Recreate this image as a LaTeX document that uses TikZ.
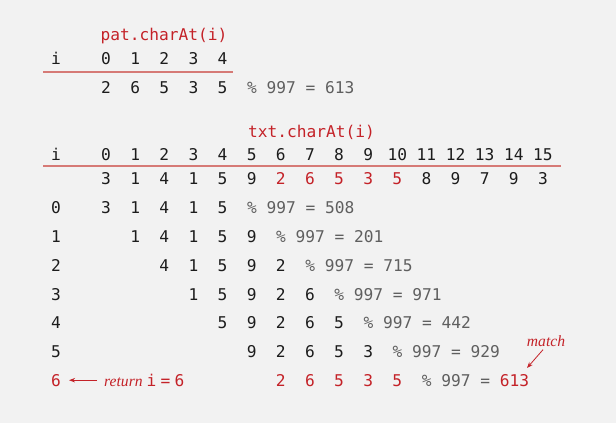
\documentclass[tikz,border=0pt]{standalone}
\usepackage{fontspec}
\setmonofont{DejaVu Sans Mono}
\newfontfamily\notefont{Liberation Serif}
\usetikzlibrary{arrows.meta}
\definecolor{bg}{RGB}{242,242,242}
\definecolor{rd}{RGB}{196,34,40}
\definecolor{rl}{RGB}{214,122,118}
\definecolor{gr}{RGB}{95,95,95}
\definecolor{dk}{RGB}{28,28,28}
\begin{document}
\begin{tikzpicture}[x=1pt,y=-1pt,
  t/.style={inner sep=0pt, font=\fontsize{16.2}{19}\selectfont\ttfamily, text height=11.8pt, text depth=0pt, text=dk},
  hl/.style={text=rd},
  calc/.style={t, anchor=west, text=gr},
  rule/.style={draw=rl, line width=1.6pt},
  note/.style={inner sep=0pt, font=\fontsize{15.6}{18}\notefont\itshape, text=rd},
  arr/.style={draw=rd, line width=0.8pt, -{Stealth[length=6pt,width=4.5pt]}}
]
\fill[bg] (0,0) rectangle (616,423);
\useasboundingbox (0,0) rectangle (616,423);
% top table
\node[t,hl] (pat) at (164,35) {pat.charAt(i)};
\node[t] (ti) at (56,59) {i};
\foreach \k in {0,...,4} \node[t] (tc\k) at ({106+29.13*\k},59) {\k};
\coordinate (tl1) at (43,72);
\coordinate (tl2) at (233,72);
\draw[rule] (tl1) -- (tl2);
\foreach \d [count=\k from 0] in {2,6,5,3,5} \node[t] (pd\k) at ({106+29.13*\k},88) {\d};
\node[calc] (pcalc) at ({106+29.13*5-4.85},88) {\% 997 = 613};
% second table
\node[t,hl] (txt) at (311.5,132) {txt.charAt(i)};
\node[t] (hi) at (56,155) {i};
\foreach \k in {0,...,15} \node[t] (hc\k) at ({106+29.13*\k},155) {\k};
\coordinate (bl1) at (43,166);
\coordinate (bl2) at (561,166);
\draw[rule] (bl1) -- (bl2);
\foreach \d [count=\k from 0] in {3,1,4,1,5,9} \node[t] (td\k) at ({106+29.13*\k},179) {\d};
\foreach \d [count=\k from 6] in {2,6,5,3,5} \node[t,hl] (td\k) at ({106+29.13*\k},179) {\d};
\foreach \d [count=\k from 11] in {8,9,7,9,3} \node[t] (td\k) at ({106+29.13*\k},179) {\d};
% rows
\foreach \rw/\a/\b/\c/\e/\f/\v in {0/3/1/4/1/5/508, 1/1/4/1/5/9/201, 2/4/1/5/9/2/715, 3/1/5/9/2/6/971, 4/5/9/2/6/5/442, 5/9/2/6/5/3/929}{
  \node[t] (l\rw) at (56,{208+28.7*\rw}) {\rw};
  \foreach \x [count=\j from 0] in {\a,\b,\c,\e,\f}{
    \pgfmathtruncatemacro{\col}{\rw+\j}
    \node[t] (n\rw-\j) at ({106+29.13*\col},{208+28.7*\rw}) {\x};
  }
  \node[calc] (c\rw) at ({106+29.13*(\rw+5)-4.85},{208+28.7*\rw}) {\% 997 = \v};
}
% row 6 (match)
\node[t,hl] (l6) at (56,380.2) {6};
\foreach \x [count=\j from 0] in {2,6,5,3,5}{
  \pgfmathtruncatemacro{\col}{6+\j}
  \node[t,hl] (n6-\j) at ({106+29.13*\col},380.2) {\x};
}
\node[calc] (c6) at ({106+29.13*11-4.85},380.2) {\% 997 = \textcolor{rd}{613}};
\node[t, anchor=west, hl] (ret) at (104,380.2) {{\fontsize{15.6}{18}\notefont\itshape return}\hspace{4pt}i\hspace{4.3pt}=\hspace{4.3pt}6};
\draw[arr] ([xshift=-7pt]ret.west) -- ([xshift=8pt]l6.east);
\node[note] (match) at (546,341) {match};
\coordinate (mt) at (527,368);
\draw[arr] ([xshift=-3pt,yshift=-3pt]match.south) -- (mt);
\end{tikzpicture}
\end{document}
